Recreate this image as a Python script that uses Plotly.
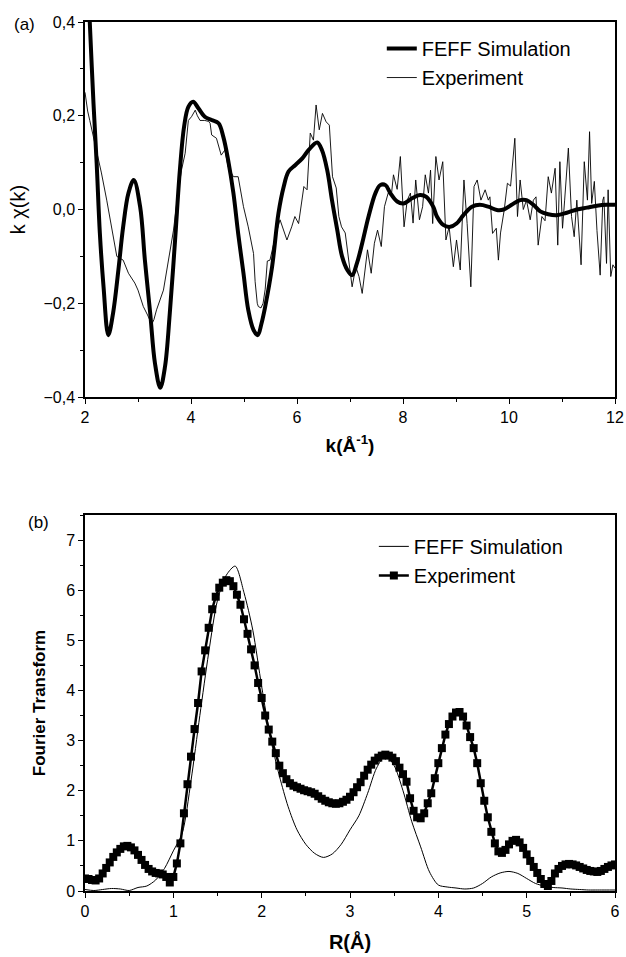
import numpy as np
import plotly.graph_objects as go

# ---------------- Panel (a) data ----------------
k_feff = [2.00, 2.05, 2.09, 2.16, 2.22, 2.28, 2.35, 2.44, 2.53, 2.63, 2.72, 2.82, 2.92, 3.04,
          3.13, 3.23, 3.32, 3.42, 3.51, 3.60, 3.70, 3.79, 3.87, 3.95, 4.04, 4.14, 4.26, 4.39,
          4.52, 4.61, 4.70, 4.80, 4.89, 4.99, 5.08, 5.18, 5.26, 5.33, 5.40, 5.53, 5.65, 5.75,
          5.84, 5.97, 6.10, 6.22, 6.38, 6.47, 6.57, 6.66, 6.76, 6.85, 6.95, 7.04, 7.13, 7.23,
          7.35, 7.48, 7.57, 7.67, 7.76, 7.89, 8.01, 8.17, 8.32, 8.44, 8.57, 8.64, 8.76, 8.89,
          9.01, 9.14, 9.30, 9.45, 9.61, 9.77, 9.90, 10.05, 10.21, 10.33, 10.46, 10.59, 10.74,
          10.90, 11.09, 11.28, 11.47, 11.66, 11.84, 12.00]
chi_feff = [0.62, 0.50, 0.40, 0.227, 0.099, -0.05, -0.165, -0.268, -0.221, -0.129, -0.037,
            0.035, 0.063, 0.006, -0.108, -0.221, -0.328, -0.380, -0.335, -0.221, -0.065, 0.084,
            0.177, 0.219, 0.230, 0.216, 0.198, 0.191, 0.184, 0.155, 0.106, 0.035, -0.051,
            -0.136, -0.214, -0.257, -0.268, -0.243, -0.207, -0.122, -0.008, 0.049, 0.081, 0.095,
            0.109, 0.127, 0.143, 0.127, 0.084, 0.020, -0.044, -0.100, -0.129, -0.140, -0.115,
            -0.072, -0.015, 0.035, 0.052, 0.052, 0.035, 0.017, 0.013, 0.024, 0.031, 0.027,
            0.006, -0.015, -0.033, -0.037, -0.030, -0.012, 0.006, 0.010, 0.006, -0.001, 0.000,
            0.010, 0.020, 0.020, 0.010, -0.004, -0.010, -0.012, -0.007, 0.000, 0.004, 0.008,
            0.010, 0.010]

k_exp = [2.00, 2.05, 2.09, 2.16, 2.25, 2.31, 2.41, 2.50, 2.60, 2.66, 2.72, 2.82, 2.94, 3.00,
         3.10, 3.18, 3.26, 3.30, 3.35, 3.48, 3.57, 3.67, 3.73, 3.82, 3.89, 3.95, 4.01, 4.08,
         4.12, 4.17, 4.26, 4.33, 4.36, 4.39, 4.48, 4.57, 4.64, 4.70, 4.80, 4.89, 4.99, 5.08,
         5.18, 5.21, 5.25, 5.27, 5.32, 5.36, 5.40, 5.44, 5.49, 5.59, 5.68, 5.81, 5.90, 5.96,
         6.03, 6.13, 6.19, 6.25, 6.31, 6.36, 6.42, 6.48, 6.55, 6.61, 6.67, 6.74, 6.79, 6.84,
         6.91, 6.97, 7.04, 7.11, 7.17, 7.23, 7.29, 7.33, 7.40, 7.46, 7.52, 7.59, 7.65, 7.72,
         7.78, 7.82, 7.89, 7.95, 8.02, 8.08, 8.14, 8.19, 8.24, 8.31, 8.37, 8.42, 8.48, 8.52,
         8.56, 8.62, 8.68, 8.75, 8.81, 8.87, 8.95, 9.01, 9.08, 9.15, 9.21, 9.28, 9.34, 9.40,
         9.47, 9.55, 9.61, 9.64, 9.69, 9.76, 9.80, 9.84, 9.91, 9.97, 10.03, 10.11, 10.16,
         10.21, 10.27, 10.33, 10.40, 10.46, 10.51, 10.55, 10.62, 10.68, 10.74, 10.80, 10.87,
         10.92, 10.96, 11.01, 11.05, 11.12, 11.18, 11.23, 11.28, 11.36, 11.42, 11.48, 11.52,
         11.56, 11.61, 11.66, 11.72, 11.77, 11.79, 11.84, 11.87, 11.92, 11.96, 12.00]
chi_exp = [0.250, 0.210, 0.190, 0.155, 0.106, 0.078, 0.020, -0.037, -0.100, -0.104, -0.108,
           -0.136, -0.157, -0.172, -0.207, -0.225, -0.245, -0.235, -0.214, -0.172, -0.115,
           -0.044, 0.013, 0.084, 0.120, 0.190, 0.198, 0.212, 0.200, 0.190, 0.190, 0.188,
           0.184, 0.159, 0.152, 0.116, 0.127, 0.091, 0.070, 0.070, 0.006, -0.037, -0.094,
           -0.154, -0.200, -0.207, -0.210, -0.200, -0.170, -0.110, -0.108, -0.058, -0.022,
           -0.065, -0.037, -0.015, -0.030, 0.049, 0.042, 0.163, 0.148, 0.223, 0.170, 0.205,
           0.187, 0.180, 0.070, 0.046, -0.015, -0.037, -0.050, -0.100, -0.165, -0.122, -0.143,
           -0.179, -0.115, -0.086, -0.136, -0.072, -0.044, -0.079, 0.006, 0.035, 0.030, 0.074,
           0.043, 0.113, -0.037, 0.020, 0.035, -0.029, 0.063, -0.022, 0.006, 0.074, 0.035,
           0.084, -0.030, 0.113, 0.063, 0.102, -0.065, -0.037, -0.122, -0.065, -0.129, 0.063,
           -0.030, -0.165, 0.049, 0.063, 0.020, 0.042, 0.020, 0.027, -0.051, -0.040, -0.108,
           -0.050, -0.001, 0.056, 0.050, 0.152, -0.015, 0.063, 0.000, 0.020, -0.022, 0.020,
           0.027, -0.076, -0.015, -0.024, 0.070, 0.035, 0.088, -0.076, 0.102, -0.040, 0.020,
           0.131, -0.015, -0.058, 0.020, -0.118, 0.102, 0.020, 0.166, 0.013, 0.060, -0.045,
           -0.140, 0.020, 0.027, -0.115, 0.042, -0.143, -0.118, -0.125]

# ---------------- Panel (b) data ----------------
R_feff = [round(0.1 * i, 1) for i in range(61)]
ft_feff = [0.03, 0.01, 0.03, 0.05, 0.04, 0.01, 0.07, 0.10, 0.22, 0.45,
           0.80, 1.15, 2.20, 3.50, 4.75, 5.80, 6.30, 6.48, 5.95, 5.20,
           4.08, 3.05, 2.30, 1.68, 1.22, 0.93, 0.75, 0.67, 0.74, 0.93,
           1.22, 1.50, 1.95, 2.45, 2.70, 2.50, 2.00, 1.38, 0.88, 0.38,
           0.12, 0.08, 0.06, 0.04, 0.06, 0.15, 0.28, 0.36, 0.39, 0.35,
           0.25, 0.15, 0.10, 0.07, 0.06, 0.04, 0.03, 0.02, 0.02, 0.02,
           0.02]

ft_exp = [0.25, 0.24, 0.22, 0.21, 0.25, 0.35, 0.46, 0.57, 0.68, 0.77,
          0.84, 0.89, 0.90, 0.87, 0.81, 0.72, 0.62, 0.52, 0.44, 0.39,
          0.36, 0.35, 0.33, 0.28, 0.17, 0.28, 0.55, 0.95, 1.55, 2.13,
          2.68, 3.23, 3.75, 4.38, 4.80, 5.25, 5.62, 5.87, 6.05, 6.15,
          6.20, 6.18, 6.08, 5.91, 5.71, 5.42, 5.13, 4.82, 4.50, 4.15,
          3.85, 3.50, 3.22, 2.98, 2.75, 2.50, 2.35, 2.23, 2.15, 2.10,
          2.07, 2.04, 2.01, 1.99, 1.97, 1.94, 1.89, 1.84, 1.80, 1.77,
          1.75, 1.74, 1.75, 1.78, 1.82, 1.88, 1.97, 2.07, 2.17, 2.30,
          2.42, 2.52, 2.60, 2.66, 2.70, 2.72, 2.70, 2.66, 2.59, 2.46,
          2.33, 2.18, 1.85, 1.60, 1.47, 1.45, 1.55, 1.75, 1.95, 2.25,
          2.55, 2.85, 3.12, 3.33, 3.48, 3.56, 3.57, 3.48, 3.30, 3.07,
          2.85, 2.55, 2.15, 1.80, 1.47, 1.18, 0.95, 0.79, 0.76, 0.82,
          0.93, 1.00, 1.02, 0.97, 0.86, 0.73, 0.60, 0.48, 0.36, 0.24,
          0.14, 0.10, 0.20, 0.35, 0.44, 0.50, 0.53, 0.54, 0.53, 0.51,
          0.48, 0.45, 0.42, 0.40, 0.39, 0.38, 0.40, 0.44, 0.48, 0.51,
          0.53]
R_exp = [round(0.04 * i, 2) for i in range(len(ft_exp))]

FONT = "Liberation Sans, Arial, sans-serif"

fig = go.Figure()

fig.add_trace(go.Scatter(x=k_feff, y=chi_feff, mode="lines", name="FEFF Simulation",
                         line=dict(color="black", width=4, shape="spline", smoothing=1.0),
                         xaxis="x", yaxis="y", legend="legend"))
fig.add_trace(go.Scatter(x=k_exp, y=chi_exp, mode="lines", name="Experiment",
                         line=dict(color="black", width=0.9),
                         xaxis="x", yaxis="y", legend="legend"))

fig.add_trace(go.Scatter(x=R_feff, y=ft_feff, mode="lines", name="FEFF Simulation",
                         line=dict(color="black", width=1, shape="spline", smoothing=0.8),
                         xaxis="x2", yaxis="y2", legend="legend2"))
fig.add_trace(go.Scatter(x=R_exp, y=ft_exp, mode="lines+markers", name="Experiment",
                         line=dict(color="black", width=2.5),
                         marker=dict(symbol="square", size=8, color="black"),
                         xaxis="x2", yaxis="y2", legend="legend2"))

axis_common = dict(showline=True, linecolor="black", linewidth=1.5, mirror=True,
                   ticks="outside", ticklen=5, tickwidth=1.2, tickcolor="black",
                   showgrid=False, zeroline=False, automargin=False,
                   tickfont=dict(family=FONT, size=16, color="black"))

# plot areas (page pixels): x 85..615, top panel y 22..397, bottom panel y 515..891
top_dom = [(891 - 397) / 869, 1.0]
bot_dom = [0.0, (891 - 515) / 869]

fig.update_layout(
    template="none",
    width=626, height=957,
    margin=dict(l=85, r=11, t=22, b=66, autoexpand=False),
    paper_bgcolor="white", plot_bgcolor="white",
    separators=", ",
    font=dict(family=FONT, color="black"),
    showlegend=True,
    xaxis=dict(**axis_common, domain=[0, 1], range=[2, 12], tickvals=[2, 4, 6, 8, 10, 12],
               minor=dict(dtick=1, tick0=0, ticks="outside", ticklen=3, tickcolor="black"),
               anchor="y",
               title=dict(text="<b>k(Å<sup>-1</sup>)</b>", standoff=14,
                          font=dict(family=FONT, size=19))),
    yaxis=dict(**axis_common, domain=top_dom, range=[-0.4, 0.4], tickvals=[-0.4, -0.2, 0, 0.2, 0.4],
               tickformat=".1f",
               minor=dict(dtick=0.1, tick0=0, ticks="outside", ticklen=3, tickcolor="black"),
               anchor="x",
               title=dict(text="k χ(k)", standoff=12, font=dict(family=FONT, size=20))),
    xaxis2=dict(**axis_common, domain=[0, 1], range=[0, 6], dtick=1,
                minor=dict(dtick=0.5, tick0=0, ticks="outside", ticklen=3, tickcolor="black"),
                anchor="y2",
                title=dict(text="<b>R(Å)</b>", standoff=16, font=dict(family=FONT, size=20))),
    yaxis2=dict(**axis_common, domain=bot_dom, range=[0, 7.5], dtick=1,
                minor=dict(dtick=0.5, tick0=0, ticks="outside", ticklen=3, tickcolor="black"),
                anchor="x2",
                title=dict(text="<b>Fourier Transform</b>", standoff=16,
                           font=dict(family=FONT, size=17))),
    legend=dict(x=0.560, y=0.9919, xanchor="left", yanchor="top", bgcolor="rgba(0,0,0,0)",
                font=dict(family=FONT, size=20), tracegroupgap=0),
    legend2=dict(x=0.545, y=0.419, xanchor="left", yanchor="top", bgcolor="rgba(0,0,0,0)",
                 font=dict(family=FONT, size=20), tracegroupgap=0),
    annotations=[
        dict(text="(a)", x=(24 - 85) / 530, y=(891 - 25) / 869, xref="paper", yref="paper",
             xanchor="center", yanchor="middle",
             showarrow=False, font=dict(family=FONT, size=17)),
        dict(text="(b)", x=(38 - 85) / 530, y=(891 - 522) / 869, xref="paper", yref="paper",
             xanchor="center", yanchor="middle",
             showarrow=False, font=dict(family=FONT, size=17)),
    ],
)

fig.write_html("out.html", config={"displayModeBar": False},
               post_script="document.body.style.margin='0px';document.body.style.overflow='hidden';")
